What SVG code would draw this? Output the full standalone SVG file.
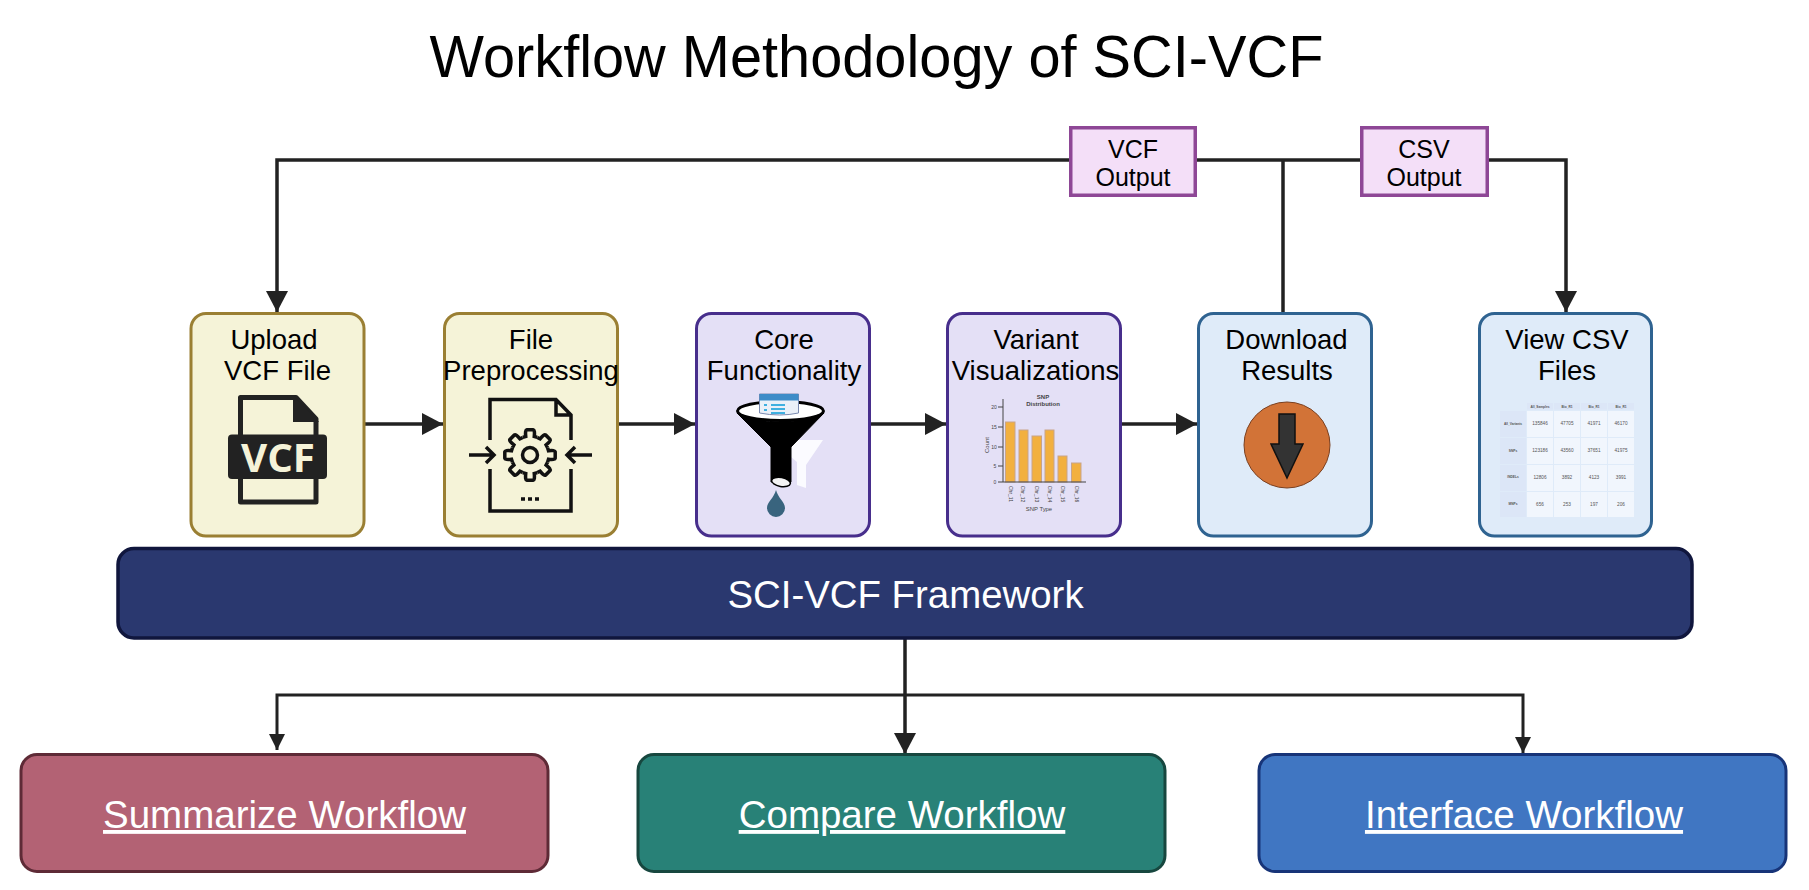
<svg xmlns="http://www.w3.org/2000/svg" width="1809" height="890" viewBox="0 0 1809 890">
<defs>
<marker id="ah" markerUnits="userSpaceOnUse" markerWidth="22" markerHeight="22" refX="21" refY="11" orient="auto"><path d="M0,0 L21,11 L0,22 Z" fill="#222"/></marker>
<marker id="ahs" markerUnits="userSpaceOnUse" markerWidth="17" markerHeight="18" refX="16" refY="8" orient="auto"><path d="M0,0 L16,8 L0,16 Z" fill="#222"/></marker>
<path id="tooth" d="M-7.27,-17.55 L-4.27,-18.51 Q-5,-25 -3.2,-25.2 H3.2 Q5,-25 4.27,-18.51 L7.27,-17.55"/>
</defs>
<style>
text{font-family:"Liberation Sans",Arial,sans-serif;text-anchor:middle;fill:#000}
.n{font-size:27.5px}
.o{font-size:25px}
.w{font-size:38.5px;fill:#fff;text-decoration:underline}
.c{fill:none;stroke:#222;stroke-width:3.5}
.y{fill:#f5f3d8;stroke:#9a7f33;stroke-width:3}
.p{fill:#e4e0f6;stroke:#472e8c;stroke-width:3}
.b{fill:#dfebf9;stroke:#2f6391;stroke-width:3}
.ob{fill:#f4dff8;stroke:#8e4796;stroke-width:3.5}
.ch text{font-size:5px;fill:#444}
.hd{fill:#dce6f7}
.ce{fill:#f1f6fd}
.tv text{font-size:4.7px;fill:#555}
.tl text{font-size:3.2px;font-weight:700;fill:#555}
</style>
<rect width="1809" height="890" fill="#fff"/>
<text id="title" x="876.5" y="77" textLength="894" lengthAdjust="spacingAndGlyphs" style="font-size:60px">Workflow Methodology of SCI-VCF</text>
<g id="connectors">
<path class="c" d="M1069,160 H277 V312" marker-end="url(#ah)"/>
<path class="c" d="M1197,160 H1360"/>
<path class="c" d="M1489,160 H1566 V312" marker-end="url(#ah)"/>
<path class="c" d="M1283,312 V160"/>
<path class="c" d="M365,424 H443" marker-end="url(#ah)"/>
<path class="c" d="M619,424 H695" marker-end="url(#ah)"/>
<path class="c" d="M871,424 H946" marker-end="url(#ah)"/>
<path class="c" d="M1122,424 H1197" marker-end="url(#ah)"/>
<path class="c" d="M905,638 V754" marker-end="url(#ah)"/>
<path class="c" style="stroke-width:3" d="M905,695 H277 V750" marker-end="url(#ahs)"/>
<path class="c" style="stroke-width:3" d="M905,695 H1523 V753" marker-end="url(#ahs)"/>
</g>
<g id="vcf-output"><rect class="ob" x="1070.75" y="127.75" width="124.5" height="67.5"/><text class="o" x="1133" y="157.5">VCF</text><text class="o" x="1133" y="186">Output</text></g>
<g id="csv-output"><rect class="ob" x="1361.75" y="127.75" width="125.5" height="67.5"/><text class="o" x="1424" y="157.5">CSV</text><text class="o" x="1424" y="186">Output</text></g>
<g id="upload">
<rect class="y" x="191" y="313.5" width="173" height="222.5" rx="15"/>
<text class="n" x="274" y="348.5">Upload</text><text class="n" x="277.5" y="379.5">VCF File</text>
<path d="M240.5,397.5 H296 L316,419 V502 H240.5 Z" fill="none" stroke="#222" stroke-width="5" stroke-linejoin="round"/>
<path d="M293,395 L319,422 H293 Z" fill="#222"/>
<rect x="228" y="434.5" width="99" height="44.5" rx="4" fill="#222"/>
<text x="278" y="472" textLength="74" lengthAdjust="spacingAndGlyphs" style="font-family:'Open Sans',sans-serif;font-weight:700;font-size:39px;fill:#f5f3d8">VCF</text>
</g>
<g id="preprocessing">
<rect class="y" x="444.5" y="313.5" width="173" height="222.5" rx="15"/>
<text class="n" x="531" y="348.5">File</text><text class="n" x="531" y="379.5">Preprocessing</text>
<g fill="none" stroke="#111" stroke-width="3.5">
<path d="M490,440 V399.5 H556 L571,415 V440 M556,399.5 V415 H571 M490,469 V511 H571 V469"/>
<path d="M469,455 H494 M486,447 L494,455 L486,463 M592,455 H567 M575,447 L567,455 L575,463"/>
<circle cx="530" cy="455" r="7.5"/>
<g transform="translate(530,455)"><use href="#tooth"/><use href="#tooth" transform="rotate(45)"/><use href="#tooth" transform="rotate(90)"/><use href="#tooth" transform="rotate(135)"/><use href="#tooth" transform="rotate(180)"/><use href="#tooth" transform="rotate(225)"/><use href="#tooth" transform="rotate(270)"/><use href="#tooth" transform="rotate(315)"/></g>
<path d="M521,499 h4 M528,499 h4 M535,499 h4"/>
</g>
</g>
<g id="core">
<rect class="p" x="696.5" y="313.5" width="173" height="222.5" rx="15"/>
<text class="n" x="784" y="348.5">Core</text><text class="n" x="784" y="379.5">Functionality</text>
<path d="M785,440 H823 L806,465 V488 L797,485 V462 L785,452 Z" fill="#fbfbff"/>
<ellipse cx="780.5" cy="411" rx="43" ry="9.5" fill="#fff" stroke="#000" stroke-width="3"/>
<path d="M737,413 Q780,431 824,413 L791,447 V482 H771 V447 Z" fill="#000" stroke="#000" stroke-width="1"/>
<path d="M759.5,394 H798.5 V413 Q780,417 759.5,413 Z" fill="#eaf0f8" stroke="#7a8ab0"/>
<rect x="759.5" y="394" width="39" height="6.5" fill="#3d8cc8"/>
<path d="M771,405 H785 M771,409 H785 M771,413 H785 M764,405 h3 M764,410 h3" stroke="#3fb0e0" stroke-width="2"/>
<ellipse cx="781" cy="482" rx="9.5" ry="4.5" transform="rotate(10 781 482)" fill="#f3f3f3" stroke="#000" stroke-width="1.5"/>
<path d="M776,490 C778,498 785,502 785,508 A9,9 0 0 1 767,508 C767,502 774,498 776,490 Z" fill="#39647e"/>
</g>
<g id="variant">
<rect class="p" x="947.5" y="313.5" width="173" height="222.5" rx="15"/>
<text class="n" x="1036" y="348.5">Variant</text><text class="n" x="1035.5" y="379.5">Visualizations</text>
<g fill="#f2b03f" stroke="#c8a48a" stroke-width="1">
<rect x="1005.5" y="422" width="9.5" height="60"/><rect x="1019" y="430" width="9" height="52"/><rect x="1032" y="436" width="9.5" height="46"/><rect x="1045" y="430" width="9" height="52"/><rect x="1058" y="456" width="9" height="26"/><rect x="1071.5" y="463" width="9.5" height="19"/>
</g>
<path d="M1003,399 V482 H1086 M998,407 h5 M998,427 h5 M998,447 h5 M998,466 h5 M998,482 h5" fill="none" stroke="#444" stroke-width="1"/>
<g class="ch"><text x="1043" y="398.500" style="font-size:6px;font-weight:700">SNP</text><text x="1043" y="405.500" style="font-size:6px;font-weight:700">Distribution</text><text x="1039" y="510.500" style="font-size:5.9px">SNP Type</text>
<text x="994" y="409">20</text><text x="994" y="429">15</text><text x="994" y="449">10</text><text x="995" y="468">5</text><text x="995" y="484">0</text>
<text transform="translate(989,445) rotate(-90)" style="font-size:6px">Count</text>
<text transform="translate(1009,494) rotate(90)">Chr_11</text><text transform="translate(1021,494) rotate(90)">Chr_12</text><text transform="translate(1035,494) rotate(90)">Chr_13</text><text transform="translate(1047.500,494) rotate(90)">Chr_14</text><text transform="translate(1061,494) rotate(90)">Chr_15</text><text transform="translate(1075,494) rotate(90)">Chr_16</text></g>
</g>
<g id="download">
<rect class="b" x="1198.5" y="313.5" width="173" height="222.5" rx="15"/>
<text class="n" x="1286.5" y="348.5">Download</text><text class="n" x="1287" y="379.5">Results</text>
<circle cx="1287" cy="445" r="43" fill="#d27337" stroke="#7a3f1f" stroke-width="1"/>
<path d="M1279,414 H1295 V444 H1303 L1287,478 L1271,444 H1279 Z" fill="#333" stroke="#111" stroke-width="1.5"/>
</g>
<g id="view-csv">
<rect class="b" x="1479.5" y="313.5" width="172" height="222.5" rx="15"/>
<text class="n" x="1567" y="348.5">View CSV</text><text class="n" x="1567" y="379.5">Files</text>
<g class="hd"><rect x="1527" y="403" width="26" height="6.500"/><rect x="1554" y="403" width="26" height="6.500"/><rect x="1581" y="403" width="26" height="6.500"/><rect x="1608" y="403" width="26" height="6.500"/>
<rect x="1500" y="411" width="26" height="26"/><rect x="1500" y="438" width="26" height="26"/><rect x="1500" y="465" width="26" height="26"/><rect x="1500" y="492" width="26" height="25"/></g>
<g class="ce"><rect x="1527" y="411" width="26" height="26"/><rect x="1554" y="411" width="26" height="26"/><rect x="1581" y="411" width="26" height="26"/><rect x="1608" y="411" width="26" height="26"/>
<rect x="1527" y="438" width="26" height="26"/><rect x="1554" y="438" width="26" height="26"/><rect x="1581" y="438" width="26" height="26"/><rect x="1608" y="438" width="26" height="26"/>
<rect x="1527" y="465" width="26" height="26"/><rect x="1554" y="465" width="26" height="26"/><rect x="1581" y="465" width="26" height="26"/><rect x="1608" y="465" width="26" height="26"/>
<rect x="1527" y="492" width="26" height="25"/><rect x="1554" y="492" width="26" height="25"/><rect x="1581" y="492" width="26" height="25"/><rect x="1608" y="492" width="26" height="25"/></g>
<g class="tv"><text x="1540" y="425">135846</text><text x="1567" y="425">47705</text><text x="1594" y="425">41971</text><text x="1621" y="425">46170</text>
<text x="1540" y="452">123186</text><text x="1567" y="452">43560</text><text x="1594" y="452">37651</text><text x="1621" y="452">41975</text>
<text x="1540" y="479">12806</text><text x="1567" y="479">3892</text><text x="1594" y="479">4123</text><text x="1621" y="479">3991</text>
<text x="1540" y="506">656</text><text x="1567" y="506">253</text><text x="1594" y="506">197</text><text x="1621" y="506">206</text></g>
<g class="tl"><text x="1540" y="408">All_Samples</text><text x="1567" y="408">Bio_R1</text><text x="1594" y="408">Bio_R1</text><text x="1621" y="408">Bio_R1</text><text x="1513" y="425">All_Variants</text><text x="1513" y="452">SNPs</text><text x="1513" y="478">INDELs</text><text x="1513" y="505">MNPs</text></g>
</g>
<g id="framework"><rect x="118" y="548.500" width="1574" height="89.500" rx="16" fill="#2a386f" stroke="#10163d" stroke-width="3.500"/><text x="905.500" y="608" style="font-size:38.4px;fill:#fff">SCI-VCF Framework</text></g>
<g id="summarize"><rect x="21" y="754.500" width="527" height="117" rx="16" fill="#b36274" stroke="#5e2a36" stroke-width="3"/><text class="w" x="284.500" y="828">Summarize Workflow</text></g>
<g id="compare"><rect x="638" y="754.500" width="527" height="117" rx="16" fill="#288177" stroke="#17473f" stroke-width="3"/><text class="w" x="902" y="828">Compare Workflow</text></g>
<g id="interface"><rect x="1259" y="754.500" width="527" height="117" rx="16" fill="#4076c2" stroke="#173478" stroke-width="3"/><text class="w" x="1524" y="828">Interface Workflow</text></g>
</svg>
